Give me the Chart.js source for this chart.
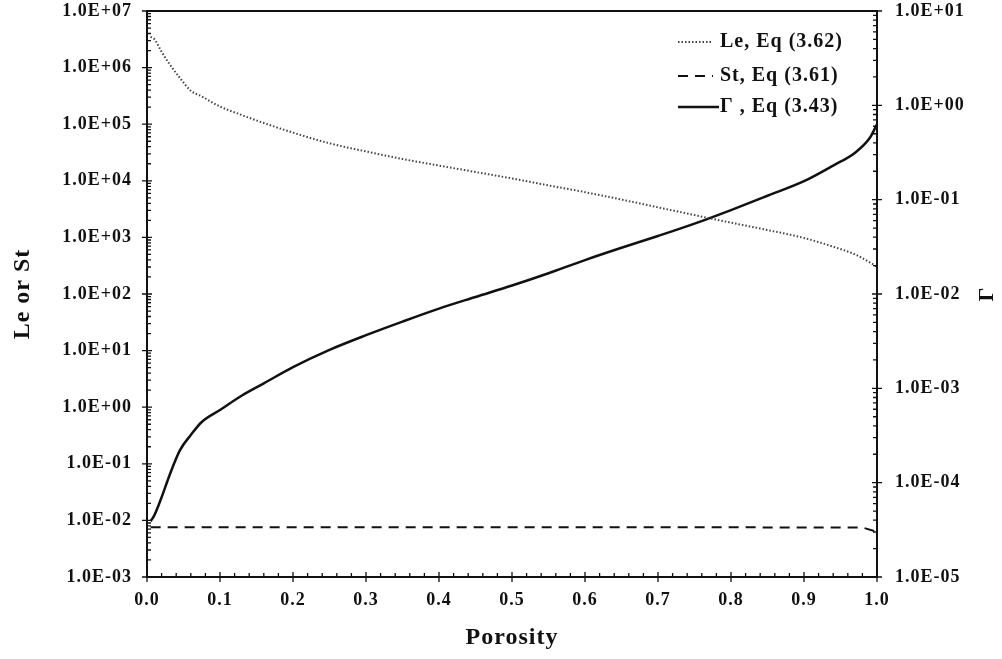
<!DOCTYPE html>
<html>
<head>
<meta charset="utf-8">
<script src="https://cdn.jsdelivr.net/npm/chart.js@4.4.1/dist/chart.umd.min.js"></script>
<style>
  html, body { margin: 0; padding: 0; background: #fff; }
  #wrap { width: 1002px; height: 659px; }
</style>
</head>
<body>
<div id="wrap"><canvas id="chart"></canvas></div>
<script>
// values
const porosity = [0.005, 0.01, 0.02, 0.03, 0.045, 0.06, 0.075, 0.1, 0.13, 0.16, 0.2, 0.25, 0.3, 0.35,
  0.4, 0.45, 0.5, 0.55, 0.6, 0.65, 0.7, 0.75, 0.8, 0.85, 0.9, 0.94, 0.97, 0.99, 1.0];
const leValues = [3.5e6, 3.2e6, 1.9e6, 1.2e6, 6.6e5, 3.9e5, 3.1e5, 2.05e5, 1.45e5, 1.05e5, 7.1e4, 4.6e4, 3.3e4, 2.43e4,
  1.86e4, 1.43e4, 1.1e4, 8.3e3, 6.3e3, 4.66e3, 3.4e3, 2.48e3, 1.82e3, 1.35e3, 977, 685, 500, 363, 302];
const gammaValues = [3.9e-5, 4.5e-5, 7.0e-5, 1.15e-4, 2.2e-4, 3.2e-4, 4.4e-4, 5.9e-4, 8.4e-4, 1.13e-3, 1.68e-3, 2.56e-3, 3.66e-3, 5.1e-3,
  7.0e-3, 9.3e-3, 1.23e-2, 1.66e-2, 2.29e-2, 3.09e-2, 4.12e-2, 5.57e-2, 7.76e-2, 0.11, 0.157, 0.23, 0.315, 0.45, 0.63];
const stPorosity = [0.005, 0.5, 0.98, 1.0];
const stValues = [0.0076, 0.0076, 0.0075, 0.0063];

const xTicks = [0, 0.1, 0.2, 0.3, 0.4, 0.5, 0.6, 0.7, 0.8, 0.9, 1.0];
const leftTicks = [1e-3, 1e-2, 1e-1, 1e0, 1e1, 1e2, 1e3, 1e4, 1e5, 1e6, 1e7];
const rightTicks = [1e-5, 1e-4, 1e-3, 1e-2, 1e-1, 1e0, 1e1];

const serif = '"Liberation Serif", "Times New Roman", serif';

function sci(v) {
  const e = Math.round(Math.log10(v));
  return '1.0E' + (e < 0 ? '-' : '+') + String(Math.abs(e)).padStart(2, '0');
}
function pts(xs, ys) {
  return xs.map((x, i) => ({ x: x, y: ys[i] }));
}
// fixed axis sizes so the plot box lands where it is in the figure
function fixSize(w, h) {
  return ax => {
    if (w) ax.width = w;
    if (h) ax.height = h;
    ax.paddingTop = 0; ax.paddingBottom = 0;
    ax.paddingLeft = 0; ax.paddingRight = 0;
  };
}

// the figure's lettering is a little wider than Liberation Serif
const wideText = {
  id: 'wideText',
  beforeDraw(chart) { chart.ctx.letterSpacing = '1px'; }
};

// box around the plot and the in/out tick marks
const frameTicks = {
  id: 'frameTicks',
  afterDatasetsDraw(chart) {
    const { ctx, chartArea: a, scales } = chart;
    ctx.save();
    ctx.strokeStyle = '#111';
    ctx.lineWidth = 2;
    ctx.strokeRect(a.left, a.top, a.right - a.left, a.bottom - a.top);
    ctx.lineWidth = 1.3;
    ctx.beginPath();
    for (let i = 0; i <= 50; i++) {
      const px = scales.x.getPixelForValue(i * 0.02);
      const major = i % 5 === 0;
      ctx.moveTo(px, a.bottom + (major ? 5 : 0));
      ctx.lineTo(px, a.bottom - (major ? 5 : 4));
    }
    [['y', a.left, 1], ['y1', a.right, -1]].forEach(([id, x0, dir]) => {
      const s = scales[id];
      const e0 = Math.round(Math.log10(s.min)), e1 = Math.round(Math.log10(s.max));
      for (let e = e0; e <= e1; e++) {
        for (let k = 1; k <= 9; k++) {
          if (e === e1 && k > 1) break;
          const py = s.getPixelForValue(k * Math.pow(10, e));
          if (k === 1) { ctx.moveTo(x0 - 5, py); ctx.lineTo(x0 + 5, py); }
          else { ctx.moveTo(x0, py); ctx.lineTo(x0 + dir * 4, py); }
        }
      }
    });
    ctx.stroke();
    ctx.restore();
  }
};

// legend in the upper right corner of the plot, plus the right-hand axis title
const insideLegend = {
  id: 'insideLegend',
  afterDraw(chart) {
    const { ctx, chartArea: a } = chart;
    const rows = [31, 65, 96];
    ctx.save();
    ctx.font = 'bold 20px ' + serif;
    ctx.letterSpacing = '1px';
    ctx.textBaseline = 'middle';
    chart.data.datasets.forEach((ds, i) => {
      const y = a.top + rows[i];
      ctx.strokeStyle = ds.borderColor;
      ctx.lineWidth = ds.borderWidth;
      ctx.setLineDash(ds.borderDash || []);
      ctx.beginPath();
      ctx.moveTo(a.right - 199, y);
      ctx.lineTo(a.right - (i === 2 ? 158 : 164), y);
      ctx.stroke();
      ctx.fillStyle = '#111';
      ctx.fillText(ds.label, a.right - 157, y);
    });
    // Γ title reads bottom-to-top like the left one
    const s = chart.scales.y1;
    ctx.translate(s.right - 15, (a.top + a.bottom) / 2);
    ctx.rotate(-Math.PI / 2);
    ctx.textAlign = 'center';
    ctx.font = 'bold 22px ' + serif;
    ctx.fillText('Γ', 0, 0);
    ctx.restore();
  }
};

const tickFont = { family: serif, size: 18, weight: 'bold' };
const titleFont = { family: serif, size: 24, weight: 'bold' };

new Chart(document.getElementById('chart').getContext('2d'), {
  type: 'line',
  data: {
    datasets: [{
      label: 'Le, Eq (3.62)',
      data: pts(porosity, leValues),
      yAxisID: 'y',
      borderColor: '#444',
      borderWidth: 2,
      borderDash: [1.5, 2],
      pointRadius: 0,
      cubicInterpolationMode: 'monotone'
    }, {
      label: 'St, Eq (3.61)',
      data: pts(stPorosity, stValues),
      yAxisID: 'y',
      borderColor: '#111',
      borderWidth: 2,
      borderDash: [10, 7],
      pointRadius: 0
    }, {
      label: 'Γ , Eq (3.43)',
      data: pts(porosity, gammaValues),
      yAxisID: 'y1',
      borderColor: '#111',
      borderWidth: 2.5,
      pointRadius: 0,
      cubicInterpolationMode: 'monotone'
    }]
  },
  options: {
    responsive: true,
    maintainAspectRatio: false,
    animation: false,
    layout: { padding: { top: 11, left: 0, right: 0, bottom: 0 } },
    plugins: { legend: { display: false }, tooltip: { enabled: false } },
    scales: {
      x: {
        type: 'linear', min: 0, max: 1,
        afterBuildTicks: ax => { ax.ticks = xTicks.map(v => ({ value: v })); },
        afterFit: fixSize(0, 82),
        ticks: { callback: v => v.toFixed(1), font: tickFont, color: '#111', padding: 13, maxRotation: 0, autoSkip: false },
        grid: { display: false, drawTicks: false },
        border: { display: false },
        title: { display: true, text: 'Porosity', font: titleFont, color: '#111', padding: { top: 0, bottom: 7 } }
      },
      y: {
        type: 'logarithmic', position: 'left', min: 1e-3, max: 1e7,
        afterBuildTicks: ax => { ax.ticks = leftTicks.map(v => ({ value: v })); },
        afterFit: fixSize(147, 0),
        ticks: { callback: v => sci(v), font: tickFont, color: '#111', padding: 15, autoSkip: false },
        grid: { display: false, drawTicks: false },
        border: { display: false },
        title: { display: true, text: 'Le or St', font: titleFont, color: '#111', padding: { top: 8, bottom: 0 } }
      },
      y1: {
        type: 'logarithmic', position: 'right', min: 1e-5, max: 1e1,
        afterBuildTicks: ax => { ax.ticks = rightTicks.map(v => ({ value: v })); },
        afterFit: fixSize(125, 0),
        ticks: { callback: v => sci(v), font: tickFont, color: '#111', padding: 18, autoSkip: false },
        grid: { display: false, drawTicks: false },
        border: { display: false }
      }
    }
  },
  plugins: [wideText, frameTicks, insideLegend]
});
</script>
</body>
</html>
